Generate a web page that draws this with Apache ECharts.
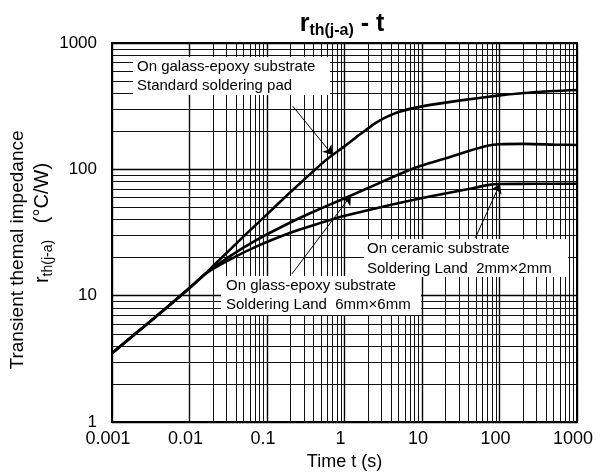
<!DOCTYPE html>
<html>
<head>
<meta charset="utf-8">
<script src="https://cdn.jsdelivr.net/npm/echarts@6/dist/echarts.min.js"></script>
<style>
html, body { margin: 0; padding: 0; background: #fff; }
#main { width: 603px; height: 476px; }
</style>
</head>
<body>
<div id="main"></div>
<script>
// values: time t (s) and r_th(j-a) (°C/W)
var tStd = [0.001, 0.002, 0.005, 0.01, 0.016, 0.02, 0.05, 0.1, 0.2, 0.5, 0.7, 1, 1.5, 2, 2.5, 3.5, 5, 10, 30, 100, 300, 1000];
var rStd = [3.5, 5.0, 8.0, 11.5, 14.9, 17.1, 29.5, 44, 66, 110, 130, 152, 185, 210, 232, 260, 285, 315, 350, 385, 410, 425];

var tGlass = [0.001, 0.002, 0.005, 0.01, 0.016, 0.033, 0.0736, 0.2, 0.36, 0.875, 1.2, 2.1, 3.86, 8.5, 20, 40, 70, 100, 200, 500, 1000];
var rGlass = [3.5, 5.0, 8.0, 11.5, 14.9, 20.5, 27.7, 38, 45, 57, 62, 72, 85, 104, 122, 140, 154, 158, 159, 157, 156];

var tCer = [0.001, 0.002, 0.005, 0.01, 0.016, 0.033, 0.0736, 0.2, 0.36, 0.875, 2, 4, 8.5, 20, 40, 70, 100, 300, 1000];
var rCer = [3.5, 5.0, 8.0, 11.5, 14.9, 19.3, 24.6, 31.5, 35.5, 42, 47.5, 52.5, 58, 64.5, 70, 75, 76.5, 77, 77];

var xTickLabels = ['0.001', '0.01', '0.1', '1', '10', '100', '1000'];
var yTickLabels = ['1', '10', '100', '1000'];

// arrows: [from, to] in data coords
var arrows = [
    [[0.215, 316], [0.7, 130]],
    [[0.21, 14.9], [1.21, 62]],
    [[49, 28.8], [101, 76.5]]
];

var FONT = 'Liberation Sans, Arial, sans-serif';

function pairs(t, r) {
    var out = [];
    for (var i = 0; i < t.length; i++) out.push([t[i], r[i]]);
    return out;
}

// minor grid at 2..9 of every decade
var minorGrid = [];
for (var d = -3; d < 3; d++) {
    for (var k = 2; k <= 9; k++) minorGrid.push({ xAxis: +(k * Math.pow(10, d)).toPrecision(3) });
}
for (var d2 = 0; d2 < 3; d2++) {
    for (var k2 = 2; k2 <= 9; k2++) minorGrid.push({ yAxis: k2 * Math.pow(10, d2) });
}

var arrowData = arrows.map(function (a) {
    return [{ coord: a[0] }, { coord: a[1] }];
});

var curveStyle = { color: '#000', width: 2.6 };

var myChart = echarts.init(document.getElementById('main'));

var option = {
    animation: false,
    grid: {
        left: 112, right: 26, top: 43, bottom: 53,
        show: true, borderColor: '#000', borderWidth: 2
    },
    xAxis: {
        type: 'log', logBase: 10, min: 0.001, max: 1000,
        axisLine: { show: false },
        axisTick: { show: false },
        splitLine: { show: true, lineStyle: { color: '#000', width: 1.4 } },
        axisLabel: {
            color: '#000', fontSize: 18, fontFamily: FONT, margin: 8,
            padding: [0, 8, 0, 0],
            formatter: function (v, i) { return xTickLabels[i]; }
        },
        name: 'Time t (s)', nameLocation: 'middle', nameGap: 24,
        nameTextStyle: { color: '#000', fontSize: 18, fontFamily: FONT }
    },
    yAxis: {
        type: 'log', logBase: 10, min: 1, max: 1000,
        axisLine: { show: false },
        axisTick: { show: false },
        splitLine: { show: true, lineStyle: { color: '#000', width: 1.4 } },
        axisLabel: {
            color: '#000', fontSize: 17, fontFamily: FONT, margin: 15,
            formatter: function (v, i) { return yTickLabels[i]; }
        }
    },
    graphic: [
        // title
        {
            type: 'text', x: 342, y: 24, z: 10,
            style: {
                text: '{m|r}{s|th(j-a)}{m| - t}',
                align: 'center', verticalAlign: 'middle', fill: '#000',
                rich: {
                    m: { fontSize: 25, fontWeight: 'bold', fontFamily: FONT, lineHeight: 30 },
                    s: { fontSize: 16, fontWeight: 'bold', fontFamily: FONT, lineHeight: 16, verticalAlign: 'bottom' }
                }
            }
        },
        // y axis title, two lines
        {
            type: 'text', x: 18, y: 250, rotation: Math.PI / 2, z: 10,
            style: {
                text: 'Transient themal impedance', fontSize: 19, fontFamily: FONT,
                fill: '#000', align: 'center', verticalAlign: 'middle'
            }
        },
        {
            type: 'text', x: 42, y: 223, rotation: Math.PI / 2, z: 10,
            style: {
                text: '{m|r}{s|th(j-a)}{m|   (°C/W)}',
                fill: '#000', align: 'center', verticalAlign: 'middle',
                rich: {
                    m: { fontSize: 20, fontFamily: FONT, lineHeight: 26 },
                    s: { fontSize: 14, fontFamily: FONT, lineHeight: 14, verticalAlign: 'bottom' }
                }
            }
        },
        // annotation boxes
        { type: 'rect', z: 8, shape: { x: 133, y: 57, width: 197, height: 38 }, style: { fill: '#fff' } },
        { type: 'text', z: 9, x: 137, y: 67, style: { text: 'On galass-epoxy substrate', fontSize: 15, fontFamily: FONT, fill: '#000', verticalAlign: 'middle' } },
        { type: 'text', z: 9, x: 137, y: 86, style: { text: 'Standard soldering pad', fontSize: 15, fontFamily: FONT, fill: '#000', verticalAlign: 'middle' } },

        { type: 'rect', z: 8, shape: { x: 221, y: 276, width: 200, height: 39 }, style: { fill: '#fff' } },
        { type: 'text', z: 9, x: 226, y: 286, style: { text: 'On glass-epoxy substrate', fontSize: 15, fontFamily: FONT, fill: '#000', verticalAlign: 'middle' } },
        { type: 'text', z: 9, x: 226, y: 305, style: { text: 'Soldering Land  6mm×6mm', fontSize: 15, fontFamily: FONT, fill: '#000', verticalAlign: 'middle' } },

        { type: 'rect', z: 8, shape: { x: 364, y: 239, width: 204, height: 38 }, style: { fill: '#fff' } },
        { type: 'text', z: 9, x: 367, y: 249, style: { text: 'On ceramic substrate', fontSize: 15, fontFamily: FONT, fill: '#000', verticalAlign: 'middle' } },
        { type: 'text', z: 9, x: 367, y: 269, style: { text: 'Soldering Land  2mm×2mm', fontSize: 15, fontFamily: FONT, fill: '#000', verticalAlign: 'middle' } }
    ],
    series: [
        {
            name: 'standard pad', type: 'line', z: 5,
            data: pairs(tStd, rStd),
            showSymbol: false, smooth: 0.15,
            lineStyle: curveStyle,
            markLine: {
                z: 1, silent: true, symbol: ['none', 'none'],
                label: { show: false },
                lineStyle: { color: '#111', width: 1, type: 'solid' },
                emphasis: { disabled: true },
                data: minorGrid
            }
        },
        {
            name: 'glass-epoxy 6x6', type: 'line', z: 5,
            data: pairs(tGlass, rGlass),
            showSymbol: false, smooth: 0.15,
            lineStyle: curveStyle,
            markLine: {
                z: 9, silent: true, symbol: ['none', 'arrow'], symbolSize: 9,
                label: { show: false },
                lineStyle: { color: '#000', width: 1, type: 'solid' },
                emphasis: { disabled: true },
                data: arrowData
            }
        },
        {
            name: 'ceramic 2x2', type: 'line', z: 5,
            data: pairs(tCer, rCer),
            showSymbol: false, smooth: 0.15,
            lineStyle: curveStyle
        }
    ]
};

myChart.setOption(option);
</script>
</body>
</html>
